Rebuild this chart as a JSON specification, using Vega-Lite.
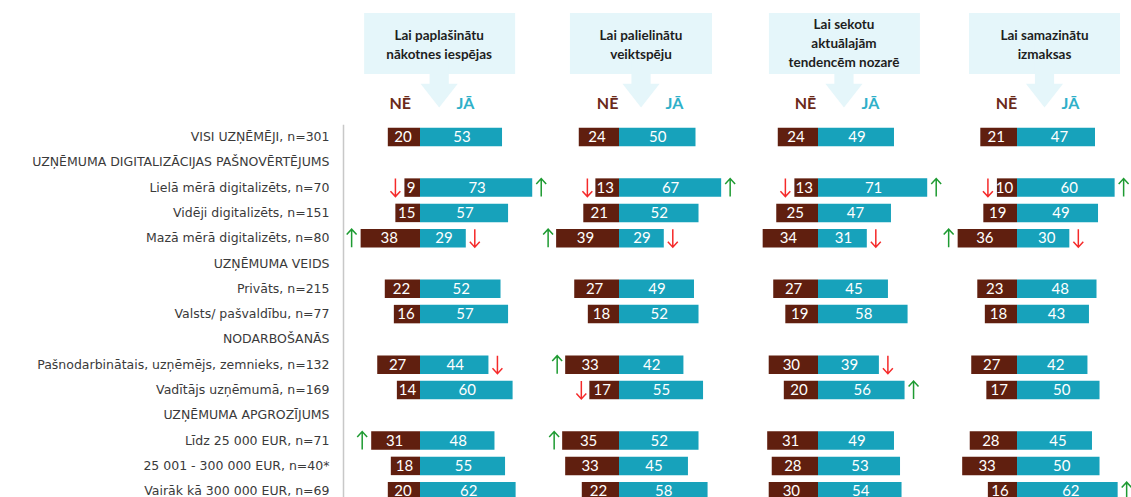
{
  "$schema": "https://vega.github.io/schema/vega-lite/v6.json",
  "padding": {"left": 31, "top": 13, "right": 0, "bottom": 0},
  "background": "#ffffff",
  "columns": 4,
  "bounds": "flush",
  "spacing": {"row": 50.35, "column": 0},
  "config": {"view": {"stroke": null}, "axis": {"grid": false}},
  "datasets": {
    "heads": [
      {"panel": "p1", "title": "Lai paplašinātu\nnākotnes iespējas"},
      {"panel": "p2", "title": "Lai palielinātu\nveiktspēju"},
      {"panel": "p3", "title": "Lai sekotu\naktuālajām\ntendencēm nozarē"},
      {"panel": "p4", "title": "Lai samazinātu\nizmaksas"}
    ],
    "rows": [
      {"panel": "p1", "label": "VISI UZŅĒMĒJI, n=301", "ne": 20, "ja": 53, "sigNe": null, "sigJa": null},
      {"panel": "p1", "label": "Lielā mērā digitalizēts, n=70", "ne": 9, "ja": 73, "sigNe": "down", "sigJa": "up"},
      {"panel": "p1", "label": "Vidēji digitalizēts, n=151", "ne": 15, "ja": 57, "sigNe": null, "sigJa": null},
      {"panel": "p1", "label": "Mazā mērā digitalizēts, n=80", "ne": 38, "ja": 29, "sigNe": "up", "sigJa": "down"},
      {"panel": "p1", "label": "Privāts, n=215", "ne": 22, "ja": 52, "sigNe": null, "sigJa": null},
      {"panel": "p1", "label": "Valsts/ pašvaldību, n=77", "ne": 16, "ja": 57, "sigNe": null, "sigJa": null},
      {"panel": "p1", "label": "Pašnodarbinātais, uzņēmējs, zemnieks, n=132", "ne": 27, "ja": 44, "sigNe": null, "sigJa": "down"},
      {"panel": "p1", "label": "Vadītājs uzņēmumā, n=169", "ne": 14, "ja": 60, "sigNe": null, "sigJa": null},
      {"panel": "p1", "label": "Līdz 25 000 EUR, n=71", "ne": 31, "ja": 48, "sigNe": "up", "sigJa": null},
      {"panel": "p1", "label": "25 001 - 300 000 EUR, n=40*", "ne": 18, "ja": 55, "sigNe": null, "sigJa": null},
      {"panel": "p1", "label": "Vairāk kā 300 000 EUR, n=69", "ne": 20, "ja": 62, "sigNe": null, "sigJa": null},

      {"panel": "p2", "label": "VISI UZŅĒMĒJI, n=301", "ne": 24, "ja": 50, "sigNe": null, "sigJa": null},
      {"panel": "p2", "label": "Lielā mērā digitalizēts, n=70", "ne": 13, "ja": 67, "sigNe": "down", "sigJa": "up"},
      {"panel": "p2", "label": "Vidēji digitalizēts, n=151", "ne": 21, "ja": 52, "sigNe": null, "sigJa": null},
      {"panel": "p2", "label": "Mazā mērā digitalizēts, n=80", "ne": 39, "ja": 29, "sigNe": "up", "sigJa": "down"},
      {"panel": "p2", "label": "Privāts, n=215", "ne": 27, "ja": 49, "sigNe": null, "sigJa": null},
      {"panel": "p2", "label": "Valsts/ pašvaldību, n=77", "ne": 18, "ja": 52, "sigNe": null, "sigJa": null},
      {"panel": "p2", "label": "Pašnodarbinātais, uzņēmējs, zemnieks, n=132", "ne": 33, "ja": 42, "sigNe": "up", "sigJa": null},
      {"panel": "p2", "label": "Vadītājs uzņēmumā, n=169", "ne": 17, "ja": 55, "sigNe": "down", "sigJa": null},
      {"panel": "p2", "label": "Līdz 25 000 EUR, n=71", "ne": 35, "ja": 52, "sigNe": "up", "sigJa": null},
      {"panel": "p2", "label": "25 001 - 300 000 EUR, n=40*", "ne": 33, "ja": 45, "sigNe": null, "sigJa": null},
      {"panel": "p2", "label": "Vairāk kā 300 000 EUR, n=69", "ne": 22, "ja": 58, "sigNe": null, "sigJa": null},

      {"panel": "p3", "label": "VISI UZŅĒMĒJI, n=301", "ne": 24, "ja": 49, "sigNe": null, "sigJa": null},
      {"panel": "p3", "label": "Lielā mērā digitalizēts, n=70", "ne": 13, "ja": 71, "sigNe": "down", "sigJa": "up"},
      {"panel": "p3", "label": "Vidēji digitalizēts, n=151", "ne": 25, "ja": 47, "sigNe": null, "sigJa": null},
      {"panel": "p3", "label": "Mazā mērā digitalizēts, n=80", "ne": 34, "ja": 31, "sigNe": null, "sigJa": "down"},
      {"panel": "p3", "label": "Privāts, n=215", "ne": 27, "ja": 45, "sigNe": null, "sigJa": null},
      {"panel": "p3", "label": "Valsts/ pašvaldību, n=77", "ne": 19, "ja": 58, "sigNe": null, "sigJa": null},
      {"panel": "p3", "label": "Pašnodarbinātais, uzņēmējs, zemnieks, n=132", "ne": 30, "ja": 39, "sigNe": null, "sigJa": "down"},
      {"panel": "p3", "label": "Vadītājs uzņēmumā, n=169", "ne": 20, "ja": 56, "sigNe": null, "sigJa": "up"},
      {"panel": "p3", "label": "Līdz 25 000 EUR, n=71", "ne": 31, "ja": 49, "sigNe": null, "sigJa": null},
      {"panel": "p3", "label": "25 001 - 300 000 EUR, n=40*", "ne": 28, "ja": 53, "sigNe": null, "sigJa": null},
      {"panel": "p3", "label": "Vairāk kā 300 000 EUR, n=69", "ne": 30, "ja": 54, "sigNe": null, "sigJa": null},

      {"panel": "p4", "label": "VISI UZŅĒMĒJI, n=301", "ne": 21, "ja": 47, "sigNe": null, "sigJa": null},
      {"panel": "p4", "label": "Lielā mērā digitalizēts, n=70", "ne": 10, "ja": 60, "sigNe": "down", "sigJa": "up"},
      {"panel": "p4", "label": "Vidēji digitalizēts, n=151", "ne": 19, "ja": 49, "sigNe": null, "sigJa": null},
      {"panel": "p4", "label": "Mazā mērā digitalizēts, n=80", "ne": 36, "ja": 30, "sigNe": "up", "sigJa": "down"},
      {"panel": "p4", "label": "Privāts, n=215", "ne": 23, "ja": 48, "sigNe": null, "sigJa": null},
      {"panel": "p4", "label": "Valsts/ pašvaldību, n=77", "ne": 18, "ja": 43, "sigNe": null, "sigJa": null},
      {"panel": "p4", "label": "Pašnodarbinātais, uzņēmējs, zemnieks, n=132", "ne": 27, "ja": 42, "sigNe": null, "sigJa": null},
      {"panel": "p4", "label": "Vadītājs uzņēmumā, n=169", "ne": 17, "ja": 50, "sigNe": null, "sigJa": null},
      {"panel": "p4", "label": "Līdz 25 000 EUR, n=71", "ne": 28, "ja": 45, "sigNe": null, "sigJa": null},
      {"panel": "p4", "label": "25 001 - 300 000 EUR, n=40*", "ne": 33, "ja": 50, "sigNe": null, "sigJa": null},
      {"panel": "p4", "label": "Vairāk kā 300 000 EUR, n=69", "ne": 16, "ja": 62, "sigNe": null, "sigJa": "up"}
    ]
  },
  "concat": [
    {
      "width": 199, "height": 61,
      "data": {"name": "heads"},
      "transform": [{"filter": "datum.panel === 'p1'"}],
      "layer": [
        {"mark": {"type": "rect", "color": "#e5f6fa"},
         "encoding": {"x": {"datum": -37, "type": "quantitative", "scale": {"domain": [-51, 80.8], "nice": false, "zero": false}, "axis": null}, "x2": {"datum": 63}}},
        {"mark": {"type": "point", "shape": "M-0.15,0 L0.15,0 L0.15,0.63 L0.29,0.63 L0,1 L-0.29,0.63 L-0.15,0.63 Z", "size": 16384, "filled": true, "color": "#e5f6fa", "opacity": 1, "strokeWidth": 0},
         "encoding": {"x": {"datum": 12.7, "type": "quantitative", "axis": null}}},
        {"mark": {"type": "text", "font": "Lato", "fontWeight": "bold", "fontSize": 13.5, "lineHeight": 19, "lineBreak": "\n", "color": "#1e1e1e", "dy": -8},
         "encoding": {"x": {"datum": 12.7, "type": "quantitative", "axis": null}, "text": {"field": "title"}}}
      ]
    },
    {
      "width": 199, "height": 61,
      "data": {"name": "heads"},
      "transform": [{"filter": "datum.panel === 'p2'"}],
      "layer": [
        {"mark": {"type": "rect", "color": "#e5f6fa"},
         "encoding": {"x": {"datum": -32.5, "type": "quantitative", "scale": {"domain": [-51, 80.8], "nice": false, "zero": false}, "axis": null}, "x2": {"datum": 61.6}}},
        {"mark": {"type": "point", "shape": "M-0.15,0 L0.15,0 L0.15,0.63 L0.29,0.63 L0,1 L-0.29,0.63 L-0.15,0.63 Z", "size": 16384, "filled": true, "color": "#e5f6fa", "opacity": 1, "strokeWidth": 0},
         "encoding": {"x": {"datum": 14.6, "type": "quantitative", "axis": null}}},
        {"mark": {"type": "text", "font": "Lato", "fontWeight": "bold", "fontSize": 13.5, "lineHeight": 19, "lineBreak": "\n", "color": "#1e1e1e", "dy": -8},
         "encoding": {"x": {"datum": 14.6, "type": "quantitative", "axis": null}, "text": {"field": "title"}}}
      ]
    },
    {
      "width": 199, "height": 61,
      "data": {"name": "heads"},
      "transform": [{"filter": "datum.panel === 'p3'"}],
      "layer": [
        {"mark": {"type": "rect", "color": "#e5f6fa"},
         "encoding": {"x": {"datum": -32.5, "type": "quantitative", "scale": {"domain": [-51, 80.8], "nice": false, "zero": false}, "axis": null}, "x2": {"datum": 67.5}}},
        {"mark": {"type": "point", "shape": "M-0.15,0 L0.15,0 L0.15,0.63 L0.29,0.63 L0,1 L-0.29,0.63 L-0.15,0.63 Z", "size": 16384, "filled": true, "color": "#e5f6fa", "opacity": 1, "strokeWidth": 0},
         "encoding": {"x": {"datum": 17.2, "type": "quantitative", "axis": null}}},
        {"mark": {"type": "text", "font": "Lato", "fontWeight": "bold", "fontSize": 13.5, "lineHeight": 19, "lineBreak": "\n", "color": "#1e1e1e", "dy": -18.5},
         "encoding": {"x": {"datum": 17.2, "type": "quantitative", "axis": null}, "text": {"field": "title"}}}
      ]
    },
    {
      "width": 185, "height": 61,
      "data": {"name": "heads"},
      "transform": [{"filter": "datum.panel === 'p4'"}],
      "layer": [
        {"mark": {"type": "rect", "color": "#e5f6fa"},
         "encoding": {"x": {"datum": -31.8, "type": "quantitative", "scale": {"domain": [-51, 71.5], "nice": false, "zero": false}, "axis": null}, "x2": {"datum": 68.2}}},
        {"mark": {"type": "point", "shape": "M-0.15,0 L0.15,0 L0.15,0.63 L0.29,0.63 L0,1 L-0.29,0.63 L-0.15,0.63 Z", "size": 16384, "filled": true, "color": "#e5f6fa", "opacity": 1, "strokeWidth": 0},
         "encoding": {"x": {"datum": 18.2, "type": "quantitative", "axis": null}}},
        {"mark": {"type": "text", "font": "Lato", "fontWeight": "bold", "fontSize": 13.5, "lineHeight": 19, "lineBreak": "\n", "color": "#1e1e1e", "dy": -8},
         "encoding": {"x": {"datum": 18.2, "type": "quantitative", "axis": null}, "text": {"field": "title"}}}
      ]
    },
    {
      "width": 199, "height": 379.5,
      "data": {"name": "rows"},
      "transform": [{"filter": "datum.panel === 'p1'"}],
      "encoding": {"y": {"field": "label", "type": "nominal", "scale": {"domain": ["VISI UZŅĒMĒJI, n=301", "UZŅĒMUMA DIGITALIZĀCIJAS PAŠNOVĒRTĒJUMS", "Lielā mērā digitalizēts, n=70", "Vidēji digitalizēts, n=151", "Mazā mērā digitalizēts, n=80", "UZŅĒMUMA VEIDS", "Privāts, n=215", "Valsts/ pašvaldību, n=77", "NODARBOŠANĀS", "Pašnodarbinātais, uzņēmējs, zemnieks, n=132", "Vadītājs uzņēmumā, n=169", "UZŅĒMUMA APGROZĪJUMS", "Līdz 25 000 EUR, n=71", "25 001 - 300 000 EUR, n=40*", "Vairāk kā 300 000 EUR, n=69"], "paddingInner": 0.27, "paddingOuter": 0.135},
        "axis": {"title": null, "ticks": false, "tickSize": 0, "domain": true, "domainColor": "#c8c8c8", "domainWidth": 1.5, "labelFont": "DejaVu Sans", "labelFontSize": 12.5, "labelColor": "#3a3a3a", "labelPadding": 14, "labelLimit": 0}}},
      "layer": [
        {"mark": {"type": "bar", "color": "#601f0f", "xOffset": -2},
         "encoding": {"x": {"field": "ne", "type": "quantitative", "stack": null, "scale": {"domain": [-80.8, 51], "reverse": true, "nice": false, "zero": true}, "axis": null}}},
        {"mark": {"type": "bar", "color": "#17a2bb", "xOffset": 2},
         "encoding": {"x": {"field": "ja", "type": "quantitative", "stack": null, "scale": {"domain": [-51, 80.8], "nice": false, "zero": true},
           "axis": {"orient": "top", "values": [-13.4, 29.8], "labelExpr": "datum.value < 0 ? 'NĒ' : 'JĀ'", "labelColor": {"condition": {"test": "datum.value < 0", "value": "#6b2a1a"}, "value": "#2fb0c9"}, "labelFont": "Lato", "labelFontWeight": "bold", "labelFontSize": 16, "ticks": false, "tickSize": 0, "domain": false, "title": null, "labelPadding": 16, "labelBaseline": "alphabetic", "labelFlush": false, "labelOverlap": false}}}},
        {"mark": {"type": "text", "color": "#ffffff", "font": "Lato", "fontSize": 15, "xOffset": -2},
         "encoding": {"x": {"field": "ne", "type": "quantitative", "scale": {"domain": [-161.6, 102], "reverse": true, "nice": false, "zero": false}, "axis": null}, "text": {"field": "ne", "type": "quantitative"}}},
        {"mark": {"type": "text", "color": "#ffffff", "font": "Lato", "fontSize": 15, "xOffset": 2},
         "encoding": {"x": {"field": "ja", "type": "quantitative", "scale": {"domain": [-102, 161.6], "nice": false, "zero": false}, "axis": null}, "text": {"field": "ja", "type": "quantitative"}}},
        {"transform": [{"filter": "datum.sigNe"}],
         "mark": {"type": "point", "filled": false, "strokeWidth": 1.5, "size": 324, "opacity": 1, "xOffset": -11},
         "encoding": {"x": {"field": "ne", "type": "quantitative", "scale": {"domain": [-80.8, 51], "reverse": true, "nice": false, "zero": true}, "axis": null},
           "shape": {"field": "sigNe", "type": "nominal", "scale": {"domain": ["up", "down"], "range": ["M0,1 L0,-1 M-0.55,-0.4 L0,-1 L0.55,-0.4", "M0,-1 L0,1 M-0.55,0.4 L0,1 L0.55,0.4"]}, "legend": null},
           "color": {"field": "sigNe", "type": "nominal", "scale": {"domain": ["up", "down"], "range": ["#1e9b32", "#f52a2a"]}, "legend": null}}},
        {"transform": [{"filter": "datum.sigJa"}],
         "mark": {"type": "point", "filled": false, "strokeWidth": 1.5, "size": 324, "opacity": 1, "xOffset": 11},
         "encoding": {"x": {"field": "ja", "type": "quantitative", "scale": {"domain": [-51, 80.8], "nice": false, "zero": true}, "axis": null},
           "shape": {"field": "sigJa", "type": "nominal", "scale": {"domain": ["up", "down"], "range": ["M0,1 L0,-1 M-0.55,-0.4 L0,-1 L0.55,-0.4", "M0,-1 L0,1 M-0.55,0.4 L0,1 L0.55,0.4"]}, "legend": null},
           "color": {"field": "sigJa", "type": "nominal", "scale": {"domain": ["up", "down"], "range": ["#1e9b32", "#f52a2a"]}, "legend": null}}}
      ],
      "resolve": {"scale": {"x": "independent"}}
    },
    {
      "width": 199, "height": 379.5,
      "data": {"name": "rows"},
      "transform": [{"filter": "datum.panel === 'p2'"}],
      "encoding": {"y": {"field": "label", "type": "nominal", "scale": {"domain": ["VISI UZŅĒMĒJI, n=301", "UZŅĒMUMA DIGITALIZĀCIJAS PAŠNOVĒRTĒJUMS", "Lielā mērā digitalizēts, n=70", "Vidēji digitalizēts, n=151", "Mazā mērā digitalizēts, n=80", "UZŅĒMUMA VEIDS", "Privāts, n=215", "Valsts/ pašvaldību, n=77", "NODARBOŠANĀS", "Pašnodarbinātais, uzņēmējs, zemnieks, n=132", "Vadītājs uzņēmumā, n=169", "UZŅĒMUMA APGROZĪJUMS", "Līdz 25 000 EUR, n=71", "25 001 - 300 000 EUR, n=40*", "Vairāk kā 300 000 EUR, n=69"], "paddingInner": 0.27, "paddingOuter": 0.135}, "axis": null}},
      "layer": [
        {"mark": {"type": "bar", "color": "#601f0f", "xOffset": -4},
         "encoding": {"x": {"field": "ne", "type": "quantitative", "stack": null, "scale": {"domain": [-80.8, 51], "reverse": true, "nice": false, "zero": true}, "axis": null}}},
        {"mark": {"type": "bar", "color": "#17a2bb", "xOffset": 1},
         "encoding": {"x": {"field": "ja", "type": "quantitative", "stack": null, "scale": {"domain": [-51, 80.8], "nice": false, "zero": true},
           "axis": {"orient": "top", "values": [-7.9, 36.4], "labelExpr": "datum.value < 0 ? 'NĒ' : 'JĀ'", "labelColor": {"condition": {"test": "datum.value < 0", "value": "#6b2a1a"}, "value": "#2fb0c9"}, "labelFont": "Lato", "labelFontWeight": "bold", "labelFontSize": 16, "ticks": false, "tickSize": 0, "domain": false, "title": null, "labelPadding": 16, "labelBaseline": "alphabetic", "labelFlush": false, "labelOverlap": false}}}},
        {"mark": {"type": "text", "color": "#ffffff", "font": "Lato", "fontSize": 15, "xOffset": -4},
         "encoding": {"x": {"field": "ne", "type": "quantitative", "scale": {"domain": [-161.6, 102], "reverse": true, "nice": false, "zero": false}, "axis": null}, "text": {"field": "ne", "type": "quantitative"}}},
        {"mark": {"type": "text", "color": "#ffffff", "font": "Lato", "fontSize": 15, "xOffset": 1},
         "encoding": {"x": {"field": "ja", "type": "quantitative", "scale": {"domain": [-102, 161.6], "nice": false, "zero": false}, "axis": null}, "text": {"field": "ja", "type": "quantitative"}}},
        {"transform": [{"filter": "datum.sigNe"}],
         "mark": {"type": "point", "filled": false, "strokeWidth": 1.5, "size": 324, "opacity": 1, "xOffset": -12},
         "encoding": {"x": {"field": "ne", "type": "quantitative", "scale": {"domain": [-80.8, 51], "reverse": true, "nice": false, "zero": true}, "axis": null},
           "shape": {"field": "sigNe", "type": "nominal", "scale": {"domain": ["up", "down"], "range": ["M0,1 L0,-1 M-0.55,-0.4 L0,-1 L0.55,-0.4", "M0,-1 L0,1 M-0.55,0.4 L0,1 L0.55,0.4"]}, "legend": null},
           "color": {"field": "sigNe", "type": "nominal", "scale": {"domain": ["up", "down"], "range": ["#1e9b32", "#f52a2a"]}, "legend": null}}},
        {"transform": [{"filter": "datum.sigJa"}],
         "mark": {"type": "point", "filled": false, "strokeWidth": 1.5, "size": 324, "opacity": 1, "xOffset": 10},
         "encoding": {"x": {"field": "ja", "type": "quantitative", "scale": {"domain": [-51, 80.8], "nice": false, "zero": true}, "axis": null},
           "shape": {"field": "sigJa", "type": "nominal", "scale": {"domain": ["up", "down"], "range": ["M0,1 L0,-1 M-0.55,-0.4 L0,-1 L0.55,-0.4", "M0,-1 L0,1 M-0.55,0.4 L0,1 L0.55,0.4"]}, "legend": null},
           "color": {"field": "sigJa", "type": "nominal", "scale": {"domain": ["up", "down"], "range": ["#1e9b32", "#f52a2a"]}, "legend": null}}}
      ],
      "resolve": {"scale": {"x": "independent"}}
    },
    {
      "width": 199, "height": 379.5,
      "data": {"name": "rows"},
      "transform": [{"filter": "datum.panel === 'p3'"}],
      "encoding": {"y": {"field": "label", "type": "nominal", "scale": {"domain": ["VISI UZŅĒMĒJI, n=301", "UZŅĒMUMA DIGITALIZĀCIJAS PAŠNOVĒRTĒJUMS", "Lielā mērā digitalizēts, n=70", "Vidēji digitalizēts, n=151", "Mazā mērā digitalizēts, n=80", "UZŅĒMUMA VEIDS", "Privāts, n=215", "Valsts/ pašvaldību, n=77", "NODARBOŠANĀS", "Pašnodarbinātais, uzņēmējs, zemnieks, n=132", "Vadītājs uzņēmumā, n=169", "UZŅĒMUMA APGROZĪJUMS", "Līdz 25 000 EUR, n=71", "25 001 - 300 000 EUR, n=40*", "Vairāk kā 300 000 EUR, n=69"], "paddingInner": 0.27, "paddingOuter": 0.135}, "axis": null}},
      "layer": [
        {"mark": {"type": "bar", "color": "#601f0f", "xOffset": -4},
         "encoding": {"x": {"field": "ne", "type": "quantitative", "stack": null, "scale": {"domain": [-80.8, 51], "reverse": true, "nice": false, "zero": true}, "axis": null}}},
        {"mark": {"type": "bar", "color": "#17a2bb", "xOffset": 2},
         "encoding": {"x": {"field": "ja", "type": "quantitative", "stack": null, "scale": {"domain": [-51, 80.8], "nice": false, "zero": true},
           "axis": {"orient": "top", "values": [-8.6, 34.4], "labelExpr": "datum.value < 0 ? 'NĒ' : 'JĀ'", "labelColor": {"condition": {"test": "datum.value < 0", "value": "#6b2a1a"}, "value": "#2fb0c9"}, "labelFont": "Lato", "labelFontWeight": "bold", "labelFontSize": 16, "ticks": false, "tickSize": 0, "domain": false, "title": null, "labelPadding": 16, "labelBaseline": "alphabetic", "labelFlush": false, "labelOverlap": false}}}},
        {"mark": {"type": "text", "color": "#ffffff", "font": "Lato", "fontSize": 15, "xOffset": -4},
         "encoding": {"x": {"field": "ne", "type": "quantitative", "scale": {"domain": [-161.6, 102], "reverse": true, "nice": false, "zero": false}, "axis": null}, "text": {"field": "ne", "type": "quantitative"}}},
        {"mark": {"type": "text", "color": "#ffffff", "font": "Lato", "fontSize": 15, "xOffset": 2},
         "encoding": {"x": {"field": "ja", "type": "quantitative", "scale": {"domain": [-102, 161.6], "nice": false, "zero": false}, "axis": null}, "text": {"field": "ja", "type": "quantitative"}}},
        {"transform": [{"filter": "datum.sigNe"}],
         "mark": {"type": "point", "filled": false, "strokeWidth": 1.5, "size": 324, "opacity": 1, "xOffset": -13},
         "encoding": {"x": {"field": "ne", "type": "quantitative", "scale": {"domain": [-80.8, 51], "reverse": true, "nice": false, "zero": true}, "axis": null},
           "shape": {"field": "sigNe", "type": "nominal", "scale": {"domain": ["up", "down"], "range": ["M0,1 L0,-1 M-0.55,-0.4 L0,-1 L0.55,-0.4", "M0,-1 L0,1 M-0.55,0.4 L0,1 L0.55,0.4"]}, "legend": null},
           "color": {"field": "sigNe", "type": "nominal", "scale": {"domain": ["up", "down"], "range": ["#1e9b32", "#f52a2a"]}, "legend": null}}},
        {"transform": [{"filter": "datum.sigJa"}],
         "mark": {"type": "point", "filled": false, "strokeWidth": 1.5, "size": 324, "opacity": 1, "xOffset": 11},
         "encoding": {"x": {"field": "ja", "type": "quantitative", "scale": {"domain": [-51, 80.8], "nice": false, "zero": true}, "axis": null},
           "shape": {"field": "sigJa", "type": "nominal", "scale": {"domain": ["up", "down"], "range": ["M0,1 L0,-1 M-0.55,-0.4 L0,-1 L0.55,-0.4", "M0,-1 L0,1 M-0.55,0.4 L0,1 L0.55,0.4"]}, "legend": null},
           "color": {"field": "sigJa", "type": "nominal", "scale": {"domain": ["up", "down"], "range": ["#1e9b32", "#f52a2a"]}, "legend": null}}}
      ],
      "resolve": {"scale": {"x": "independent"}}
    },
    {
      "width": 185, "height": 379.5,
      "data": {"name": "rows"},
      "transform": [{"filter": "datum.panel === 'p4'"}],
      "encoding": {"y": {"field": "label", "type": "nominal", "scale": {"domain": ["VISI UZŅĒMĒJI, n=301", "UZŅĒMUMA DIGITALIZĀCIJAS PAŠNOVĒRTĒJUMS", "Lielā mērā digitalizēts, n=70", "Vidēji digitalizēts, n=151", "Mazā mērā digitalizēts, n=80", "UZŅĒMUMA VEIDS", "Privāts, n=215", "Valsts/ pašvaldību, n=77", "NODARBOŠANĀS", "Pašnodarbinātais, uzņēmējs, zemnieks, n=132", "Vadītājs uzņēmumā, n=169", "UZŅĒMUMA APGROZĪJUMS", "Līdz 25 000 EUR, n=71", "25 001 - 300 000 EUR, n=40*", "Vairāk kā 300 000 EUR, n=69"], "paddingInner": 0.27, "paddingOuter": 0.135}, "axis": null}},
      "layer": [
        {"mark": {"type": "bar", "color": "#601f0f", "xOffset": -5},
         "encoding": {"x": {"field": "ne", "type": "quantitative", "stack": null, "scale": {"domain": [-71.5, 51], "reverse": true, "nice": false, "zero": true}, "axis": null}}},
        {"mark": {"type": "bar", "color": "#17a2bb", "xOffset": 7},
         "encoding": {"x": {"field": "ja", "type": "quantitative", "stack": null, "scale": {"domain": [-51, 71.5], "nice": false, "zero": true},
           "axis": {"orient": "top", "values": [-7.3, 35.1], "labelExpr": "datum.value < 0 ? 'NĒ' : 'JĀ'", "labelColor": {"condition": {"test": "datum.value < 0", "value": "#6b2a1a"}, "value": "#2fb0c9"}, "labelFont": "Lato", "labelFontWeight": "bold", "labelFontSize": 16, "ticks": false, "tickSize": 0, "domain": false, "title": null, "labelPadding": 16, "labelBaseline": "alphabetic", "labelFlush": false, "labelOverlap": false}}}},
        {"mark": {"type": "text", "color": "#ffffff", "font": "Lato", "fontSize": 15, "xOffset": -5},
         "encoding": {"x": {"field": "ne", "type": "quantitative", "scale": {"domain": [-143, 102], "reverse": true, "nice": false, "zero": false}, "axis": null}, "text": {"field": "ne", "type": "quantitative"}}},
        {"mark": {"type": "text", "color": "#ffffff", "font": "Lato", "fontSize": 15, "xOffset": 7},
         "encoding": {"x": {"field": "ja", "type": "quantitative", "scale": {"domain": [-102, 143], "nice": false, "zero": false}, "axis": null}, "text": {"field": "ja", "type": "quantitative"}}},
        {"transform": [{"filter": "datum.sigNe"}],
         "mark": {"type": "point", "filled": false, "strokeWidth": 1.5, "size": 324, "opacity": 1, "xOffset": -14},
         "encoding": {"x": {"field": "ne", "type": "quantitative", "scale": {"domain": [-71.5, 51], "reverse": true, "nice": false, "zero": true}, "axis": null},
           "shape": {"field": "sigNe", "type": "nominal", "scale": {"domain": ["up", "down"], "range": ["M0,1 L0,-1 M-0.55,-0.4 L0,-1 L0.55,-0.4", "M0,-1 L0,1 M-0.55,0.4 L0,1 L0.55,0.4"]}, "legend": null},
           "color": {"field": "sigNe", "type": "nominal", "scale": {"domain": ["up", "down"], "range": ["#1e9b32", "#f52a2a"]}, "legend": null}}},
        {"transform": [{"filter": "datum.sigJa"}],
         "mark": {"type": "point", "filled": false, "strokeWidth": 1.5, "size": 324, "opacity": 1, "xOffset": 16},
         "encoding": {"x": {"field": "ja", "type": "quantitative", "scale": {"domain": [-51, 71.5], "nice": false, "zero": true}, "axis": null},
           "shape": {"field": "sigJa", "type": "nominal", "scale": {"domain": ["up", "down"], "range": ["M0,1 L0,-1 M-0.55,-0.4 L0,-1 L0.55,-0.4", "M0,-1 L0,1 M-0.55,0.4 L0,1 L0.55,0.4"]}, "legend": null},
           "color": {"field": "sigJa", "type": "nominal", "scale": {"domain": ["up", "down"], "range": ["#1e9b32", "#f52a2a"]}, "legend": null}}}
      ],
      "resolve": {"scale": {"x": "independent"}}
    }
  ]
}
